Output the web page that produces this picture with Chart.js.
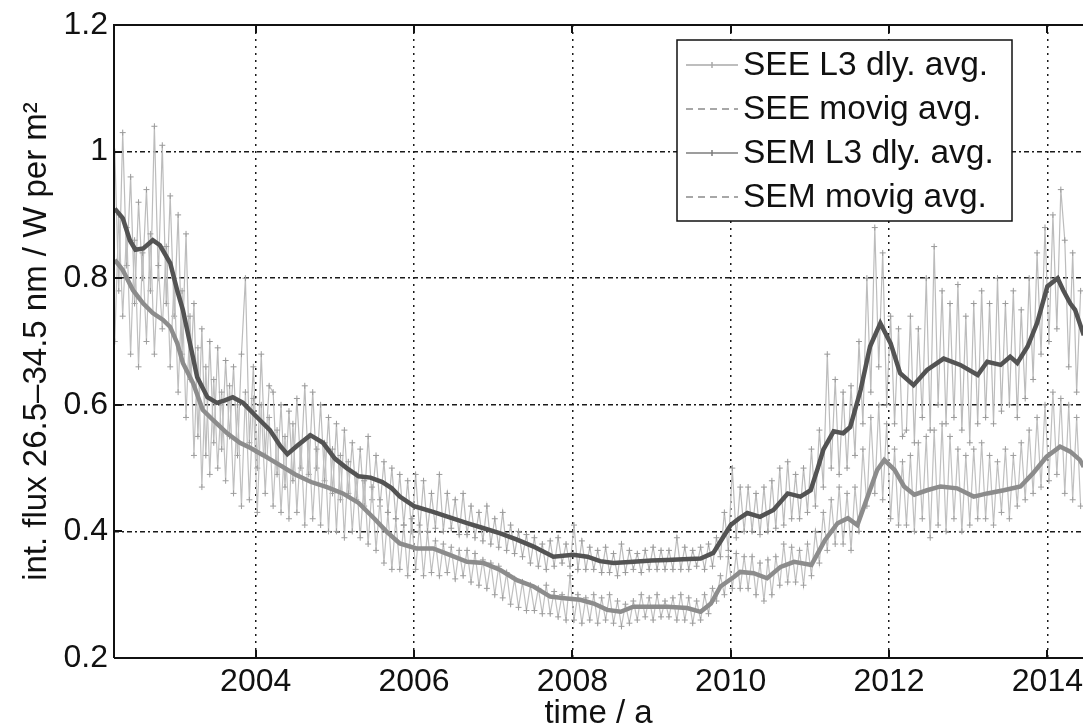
<!DOCTYPE html>
<html>
<head>
<meta charset="utf-8">
<title>int. flux 26.5–34.5 nm</title>
<script src="https://cdn.jsdelivr.net/npm/chart.js@4.4.1/dist/chart.umd.min.js"></script>
<style>
  html, body { margin: 0; padding: 0; background: #fff; }
  #wrap { width: 1083px; height: 727px; }
</style>
</head>
<body>
<div id="wrap"><canvas id="fluxChart" width="1083" height="727"></canvas></div>
<script>
// axis ticks
const yearTicks = [2004, 2006, 2008, 2010, 2012, 2014];
const fluxTicks = [0.2, 0.4, 0.6, 0.8, 1, 1.2];

// daily averages, one row per year starting at 2002.22
const dailyStart = 2002.22;
const dailyStep = 0.05;

const seeDaily = [
  1.00, 0.78, 1.03, 0.82, 0.96, 0.76, 0.92, 0.80, 0.94, 0.78, 1.04, 0.80, 1.01, 0.76, 0.93, 0.74, 0.90, 0.68, 0.87, 0.64,
  0.76, 0.55, 0.72, 0.52, 0.70, 0.54, 0.69, 0.53, 0.67, 0.55, 0.66, 0.52, 0.68, 0.80, 0.54, 0.66, 0.50, 0.68, 0.52, 0.63,
  0.62, 0.49, 0.60, 0.47, 0.59, 0.48, 0.61, 0.50, 0.63, 0.49, 0.62, 0.50, 0.60, 0.48, 0.58, 0.46, 0.57, 0.45, 0.56, 0.46,
  0.54, 0.45, 0.53, 0.44, 0.55, 0.45, 0.52, 0.44, 0.51, 0.43, 0.50, 0.42, 0.49, 0.41, 0.48, 0.40, 0.49, 0.40, 0.48, 0.40,
  0.46, 0.405, 0.49, 0.40, 0.46, 0.405, 0.45, 0.395, 0.46, 0.395, 0.44, 0.39, 0.43, 0.385, 0.44, 0.38, 0.42, 0.375, 0.43, 0.37,
  0.41, 0.365, 0.40, 0.36, 0.395, 0.35, 0.39, 0.345, 0.38, 0.34, 0.385, 0.345, 0.39, 0.35, 0.38, 0.345, 0.41, 0.34, 0.385, 0.34,
  0.375, 0.34, 0.37, 0.335, 0.375, 0.335, 0.365, 0.33, 0.38, 0.335, 0.37, 0.34, 0.365, 0.335, 0.37, 0.34, 0.375, 0.34, 0.37, 0.34,
  0.37, 0.34, 0.39, 0.34, 0.375, 0.34, 0.37, 0.345, 0.375, 0.34, 0.38, 0.345, 0.39, 0.36, 0.43, 0.37, 0.50, 0.39, 0.47, 0.40,
  0.47, 0.40, 0.46, 0.395, 0.47, 0.40, 0.48, 0.405, 0.50, 0.41, 0.51, 0.42, 0.49, 0.42, 0.50, 0.43, 0.53, 0.44, 0.56, 0.47,
  0.68, 0.50, 0.64, 0.49, 0.62, 0.50, 0.63, 0.52, 0.70, 0.57, 0.80, 0.62, 0.88, 0.66, 0.84, 0.60, 0.74, 0.57, 0.72, 0.55,
  0.56, 0.74, 0.54, 0.72, 0.58, 0.80, 0.56, 0.85, 0.60, 0.78, 0.57, 0.76, 0.58, 0.79, 0.56, 0.74, 0.54, 0.76, 0.57, 0.78,
  0.58, 0.76, 0.57, 0.80, 0.59, 0.76, 0.60, 0.78, 0.58, 0.75, 0.61, 0.80, 0.64, 0.84, 0.68, 0.88, 0.70, 0.90, 0.72, 0.94,
  0.86, 0.66, 0.84, 0.62, 0.78
];

const semDaily = [
  0.70, 0.90, 0.74, 0.88, 0.68, 0.86, 0.66, 0.84, 0.70, 0.87, 0.68, 0.82, 0.72, 0.85, 0.66, 0.80, 0.62, 0.78, 0.58, 0.74,
  0.52, 0.69, 0.47, 0.66, 0.49, 0.64, 0.50, 0.62, 0.48, 0.63, 0.46, 0.60, 0.44, 0.62, 0.45, 0.61, 0.43, 0.60, 0.46, 0.58,
  0.44, 0.56, 0.43, 0.55, 0.42, 0.57, 0.43, 0.54, 0.41, 0.55, 0.42, 0.53, 0.41, 0.54, 0.40, 0.53, 0.40, 0.52, 0.39, 0.51,
  0.40, 0.49, 0.39, 0.48, 0.38, 0.47, 0.37, 0.45, 0.35, 0.43, 0.34, 0.42, 0.34, 0.41, 0.33, 0.42, 0.34, 0.41, 0.33, 0.40,
  0.335, 0.385, 0.33, 0.38, 0.335, 0.375, 0.325, 0.37, 0.33, 0.37, 0.32, 0.365, 0.315, 0.355, 0.31, 0.35, 0.30, 0.345, 0.295, 0.335,
  0.285, 0.325, 0.28, 0.32, 0.275, 0.315, 0.275, 0.31, 0.27, 0.315, 0.27, 0.305, 0.265, 0.30, 0.26, 0.33, 0.26, 0.30, 0.255, 0.295,
  0.26, 0.30, 0.255, 0.295, 0.26, 0.30, 0.255, 0.29, 0.25, 0.285, 0.255, 0.29, 0.26, 0.30, 0.265, 0.295, 0.26, 0.30, 0.265, 0.29,
  0.265, 0.295, 0.26, 0.30, 0.26, 0.295, 0.255, 0.29, 0.26, 0.30, 0.27, 0.31, 0.29, 0.33, 0.30, 0.36, 0.31, 0.365, 0.31, 0.36,
  0.31, 0.36, 0.30, 0.35, 0.29, 0.355, 0.30, 0.36, 0.315, 0.38, 0.32, 0.375, 0.32, 0.37, 0.315, 0.38, 0.33, 0.40, 0.35, 0.43,
  0.37, 0.45, 0.38, 0.47, 0.38, 0.46, 0.37, 0.47, 0.40, 0.53, 0.44, 0.58, 0.46, 0.60, 0.45, 0.57, 0.42, 0.53, 0.41, 0.51,
  0.41, 0.52, 0.40, 0.54, 0.42, 0.55, 0.39, 0.56, 0.41, 0.57, 0.40, 0.55, 0.42, 0.53, 0.40, 0.52, 0.41, 0.53, 0.42, 0.54,
  0.42, 0.52, 0.41, 0.51, 0.43, 0.53, 0.42, 0.52, 0.44, 0.54, 0.45, 0.56, 0.46, 0.58, 0.47, 0.60, 0.48, 0.62, 0.49, 0.61,
  0.46, 0.60, 0.45, 0.58, 0.44
];

// moving averages
const seeAvgYears = [
  2002.22, 2002.32, 2002.41, 2002.48, 2002.58, 2002.70, 2002.79, 2002.92, 2003.01, 2003.08,
  2003.17, 2003.26, 2003.39, 2003.51, 2003.61, 2003.71, 2003.84, 2004.02, 2004.18, 2004.31,
  2004.40, 2004.52, 2004.69, 2004.85, 2005.00, 2005.15, 2005.30, 2005.45, 2005.60, 2005.72,
  2005.82, 2006.00, 2006.24, 2006.45, 2006.67, 2006.88, 2007.09, 2007.30, 2007.51, 2007.76,
  2008.01, 2008.19, 2008.35, 2008.52, 2008.77, 2009.00, 2009.20, 2009.40, 2009.62, 2009.78,
  2009.90, 2010.00, 2010.10, 2010.21, 2010.37, 2010.54, 2010.72, 2010.88, 2011.01, 2011.10,
  2011.17, 2011.30, 2011.42, 2011.51, 2011.64, 2011.76, 2011.89, 2012.02, 2012.14, 2012.31,
  2012.48, 2012.69, 2012.90, 2013.12, 2013.24, 2013.41, 2013.53, 2013.62, 2013.75, 2013.87,
  2014.00, 2014.13, 2014.20, 2014.29, 2014.35, 2014.46
];
const seeAvg = [
  0.91, 0.895, 0.86, 0.845, 0.847, 0.86, 0.852, 0.824, 0.78, 0.75,
  0.697, 0.644, 0.612, 0.603, 0.607, 0.612, 0.603, 0.58, 0.56, 0.535,
  0.522, 0.535, 0.552, 0.54, 0.515, 0.50, 0.487, 0.485, 0.478, 0.468,
  0.455, 0.44, 0.431, 0.422, 0.413, 0.405, 0.397, 0.387, 0.376, 0.36,
  0.363, 0.36, 0.353, 0.35, 0.352, 0.354, 0.355, 0.356, 0.357, 0.366,
  0.39, 0.41, 0.42, 0.429, 0.423, 0.434, 0.46, 0.455, 0.465, 0.50,
  0.529, 0.558, 0.555, 0.565, 0.623, 0.692, 0.729, 0.697, 0.65, 0.631,
  0.655, 0.673, 0.663, 0.647, 0.668, 0.663, 0.676, 0.666, 0.692, 0.729,
  0.787, 0.80, 0.781, 0.76, 0.75, 0.71
];

const semAvgYears = [
  2002.22, 2002.32, 2002.45, 2002.58, 2002.70, 2002.83, 2002.92, 2003.01, 2003.08, 2003.21,
  2003.33, 2003.46, 2003.64, 2003.80, 2003.93, 2004.10, 2004.30, 2004.50, 2004.70, 2004.90,
  2005.10, 2005.30, 2005.50, 2005.65, 2005.82, 2006.03, 2006.24, 2006.45, 2006.67, 2006.88,
  2007.09, 2007.30, 2007.51, 2007.72, 2007.93, 2008.10, 2008.27, 2008.44, 2008.61, 2008.77,
  2009.03, 2009.20, 2009.45, 2009.62, 2009.75, 2009.87, 2010.04, 2010.12, 2010.29, 2010.46,
  2010.63, 2010.80, 2011.02, 2011.19, 2011.35, 2011.48, 2011.60, 2011.73, 2011.85, 2011.94,
  2012.07, 2012.19, 2012.32, 2012.48, 2012.65, 2012.86, 2013.07, 2013.24, 2013.45, 2013.66,
  2013.82, 2013.99, 2014.16, 2014.29, 2014.41, 2014.46
];
const semAvg = [
  0.829, 0.813, 0.781, 0.76, 0.745, 0.734, 0.723, 0.697, 0.666, 0.634,
  0.592, 0.576, 0.555, 0.54, 0.532, 0.52, 0.505, 0.49, 0.478, 0.47,
  0.46, 0.445, 0.42, 0.40, 0.381, 0.373, 0.373, 0.363, 0.352, 0.35,
  0.339, 0.323, 0.313, 0.297, 0.294, 0.292, 0.286, 0.276, 0.273, 0.281,
  0.281, 0.281, 0.279, 0.273, 0.286, 0.313, 0.328, 0.336, 0.334, 0.326,
  0.344, 0.352, 0.347, 0.386, 0.413, 0.421, 0.41, 0.455, 0.497, 0.513,
  0.497, 0.471, 0.458, 0.465, 0.471, 0.468, 0.455, 0.46, 0.465, 0.471,
  0.492, 0.518, 0.534, 0.526, 0.513, 0.502
];

const FONT = '"Liberation Sans", Arial, Helvetica, sans-serif';

const dailyYears = seeDaily.map((_, i) => +(dailyStart + i * dailyStep).toFixed(2));
const toPoints = (xs, ys) => ys.map((v, i) => ({ x: xs[i], y: v }));

// box, inward ticks and the boxed legend (matlab style)
const frameAndLegend = {
  id: 'frameAndLegend',
  afterDraw(chart) {
    const { ctx, chartArea: a, scales: { x, y } } = chart;
    ctx.save();
    ctx.setLineDash([]);
    ctx.strokeStyle = '#111';
    ctx.lineWidth = 2;
    ctx.beginPath();
    ctx.moveTo(a.left, a.bottom);
    ctx.lineTo(a.left, a.top);
    ctx.lineTo(a.right, a.top);
    ctx.moveTo(a.left, a.bottom);
    ctx.lineTo(a.right, a.bottom);
    yearTicks.forEach(v => {
      const px = Math.round(x.getPixelForValue(v));
      ctx.moveTo(px, a.bottom); ctx.lineTo(px, a.bottom - 8);
      ctx.moveTo(px, a.top); ctx.lineTo(px, a.top + 8);
    });
    fluxTicks.forEach(v => {
      const py = Math.round(y.getPixelForValue(v));
      ctx.moveTo(a.left, py); ctx.lineTo(a.left + 8, py);
    });
    ctx.stroke();

    const boxW = 335, boxH = 181, rowH = 44;
    const bx = a.right - 71 - boxW;
    const by = a.top + 15;
    ctx.fillStyle = '#fff';
    ctx.fillRect(bx, by, boxW, boxH);
    ctx.lineWidth = 1.5;
    ctx.strokeStyle = '#111';
    ctx.strokeRect(bx, by, boxW, boxH);

    ctx.font = '33.5px ' + FONT;
    ctx.textBaseline = 'middle';
    ctx.textAlign = 'left';
    chart.data.datasets.forEach((ds, i) => {
      const cy = by + 25 + i * rowH;
      ctx.strokeStyle = ds.legendColor;
      ctx.lineWidth = 1.5;
      ctx.setLineDash(ds.legendDash);
      ctx.beginPath();
      ctx.moveTo(bx + 9, cy);
      ctx.lineTo(bx + 61, cy);
      ctx.stroke();
      if (ds.pointStyle === 'cross') {
        ctx.setLineDash([]);
        ctx.beginPath();
        ctx.moveTo(bx + 35, cy - 3); ctx.lineTo(bx + 35, cy + 3);
        ctx.stroke();
      }
      ctx.fillStyle = '#111';
      ctx.fillText(ds.label, bx + 66, cy + 1);
    });
    ctx.restore();
  }
};

const tickFont = { family: FONT, size: 32 };
const titleFont = { family: FONT, size: 33 };

new Chart(document.getElementById('fluxChart'), {
  type: 'line',
  data: {
    datasets: [
      {
        label: 'SEE L3 dly. avg.',
        data: toPoints(dailyYears, seeDaily),
        borderColor: '#bcbcbc',
        borderWidth: 1.2,
        pointStyle: 'cross',
        pointRadius: 3,
        pointBorderColor: '#9a9a9a',
        pointBorderWidth: 1,
        order: 3,
        legendColor: '#a8a8a8',
        legendDash: []
      },
      {
        label: 'SEE movig avg.',
        data: toPoints(seeAvgYears, seeAvg),
        borderColor: '#535353',
        borderWidth: 4.5,
        pointRadius: 0,
        order: 1,
        legendColor: '#8a8a8a',
        legendDash: [7, 5]
      },
      {
        label: 'SEM L3 dly. avg.',
        data: toPoints(dailyYears, semDaily),
        borderColor: '#c0c0c0',
        borderWidth: 1.2,
        pointStyle: 'cross',
        pointRadius: 3,
        pointBorderColor: '#9e9e9e',
        pointBorderWidth: 1,
        order: 2,
        legendColor: '#7c7c7c',
        legendDash: []
      },
      {
        label: 'SEM movig avg.',
        data: toPoints(semAvgYears, semAvg),
        borderColor: '#8c8c8c',
        borderWidth: 4.5,
        pointRadius: 0,
        order: 0,
        legendColor: '#8a8a8a',
        legendDash: [7, 5]
      }
    ]
  },
  options: {
    responsive: false,
    animation: false,
    devicePixelRatio: 1,
    layout: { autoPadding: false, padding: { top: 25, left: 0, right: 0, bottom: 0 } },
    plugins: { legend: { display: false }, tooltip: { enabled: false } },
    scales: {
      x: {
        type: 'linear',
        min: 2002.21,
        max: 2014.45,
        afterBuildTicks: s => { s.ticks = yearTicks.map(v => ({ value: v })); },
        afterFit: s => { s.height = 69; s.paddingLeft = 0; s.paddingRight = 0; },
        grid: { color: '#1a1a1a', lineWidth: 1.5, drawTicks: false },
        border: { display: false, dash: [2, 5] },
        ticks: { font: tickFont, color: '#111', padding: 5, maxRotation: 0, autoSkip: false, callback: v => String(v) },
        title: { display: true, text: 'time / a', font: { ...titleFont, lineHeight: 0.8 }, color: '#111', padding: 0 }
      },
      y: {
        type: 'linear',
        min: 0.2,
        max: 1.2,
        afterBuildTicks: s => { s.ticks = fluxTicks.map(v => ({ value: v })); },
        afterFit: s => { s.width = 114; s.paddingTop = 0; s.paddingBottom = 0; },
        grid: { color: '#1a1a1a', lineWidth: 1.5, drawTicks: false },
        border: { display: false, dash: [5, 3, 2, 3] },
        ticks: { font: tickFont, color: '#111', padding: 6, callback: v => String(v) },
        title: { display: true, text: 'int. flux 26.5–34.5 nm / W per m²', font: titleFont, color: '#111', padding: { top: 17, bottom: 0 } }
      }
    }
  },
  plugins: [frameAndLegend]
});
</script>
</body>
</html>
